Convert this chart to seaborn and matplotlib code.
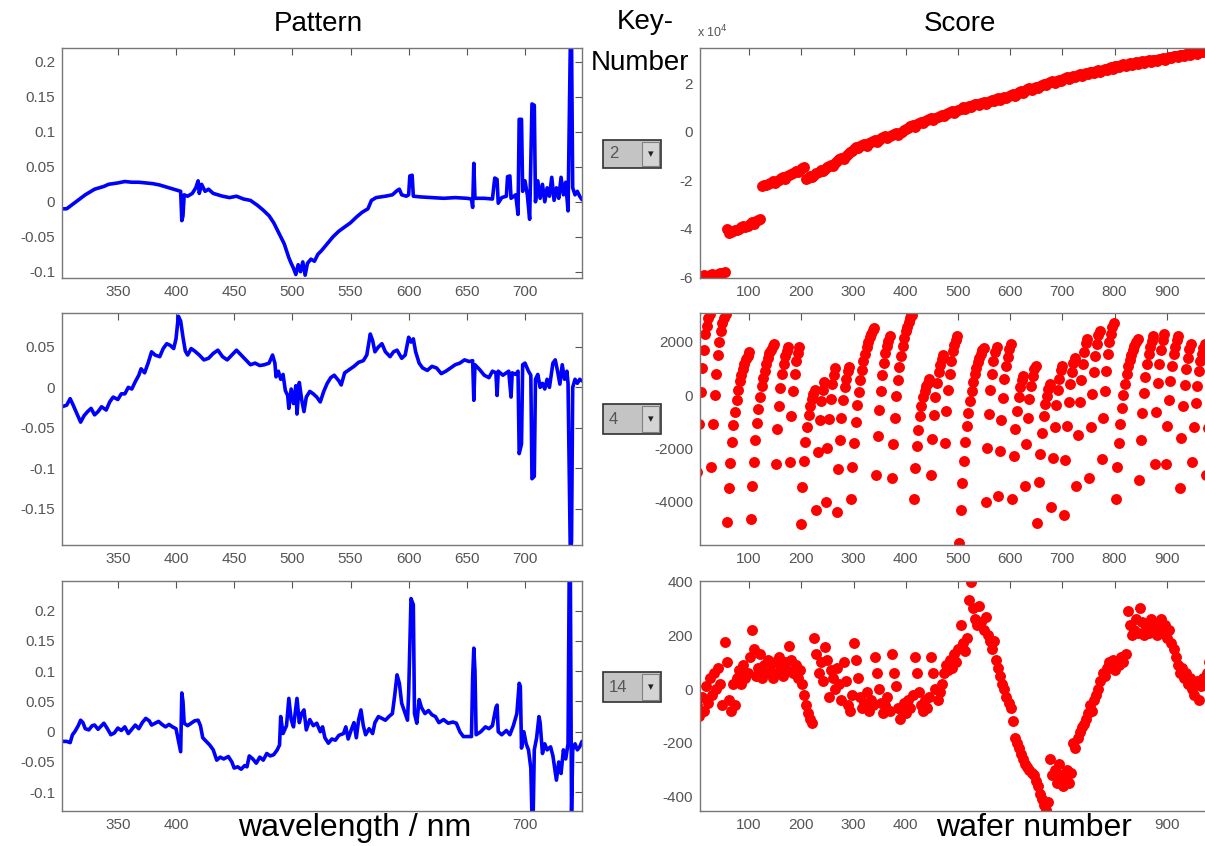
import matplotlib.pyplot as plt
import numpy as np
import seaborn as sns
from matplotlib.patches import Rectangle
from matplotlib.ticker import FuncFormatter, MultipleLocator

# ---- spectra (loadings): wavelength in nm, value
pat2_wl = [302, 306, 310, 314, 318, 322, 326, 330, 334, 338, 342, 346, 350, 356, 362, 368,
           374, 380, 386, 392, 398, 402, 404, 405, 406, 407, 410, 414, 417, 419, 420, 422,
           425, 428, 432, 436, 440, 446, 452, 458, 464, 470, 475, 480, 484, 487, 490, 493,
           495, 497, 499, 501, 503, 505, 507, 509, 511, 513, 516, 519, 522, 525, 530, 535,
           540, 545, 550, 555, 560, 565, 568, 572, 580, 586, 590, 592, 594, 598, 600, 601,
           603, 604, 610, 620, 630, 640, 650, 654, 655, 656, 657, 665, 672, 674, 676, 677,
           680, 684, 685, 687, 688, 692, 694, 695, 697, 698, 700, 702, 704, 706, 708, 709,
           711, 713, 715, 717, 719, 721, 723, 725, 727, 729, 731, 733, 735, 737, 738, 739,
           740, 741, 743, 745, 747, 749]
pat2_val = [-0.010, -0.010, -0.005, 0.000, 0.005, 0.010, 0.014, 0.018, 0.020, 0.022, 0.025,
            0.026, 0.027, 0.029, 0.028, 0.028, 0.027, 0.026, 0.024, 0.021, 0.018, 0.016,
            0.015, -0.027, -0.020, 0.010, 0.008, 0.012, 0.020, 0.030, 0.012, 0.025, 0.015,
            0.018, 0.012, 0.010, 0.008, 0.006, 0.008, 0.004, 0.002, -0.005, -0.012, -0.020,
            -0.030, -0.040, -0.050, -0.060, -0.070, -0.080, -0.088, -0.095, -0.104, -0.090,
            -0.100, -0.086, -0.105, -0.088, -0.082, -0.085, -0.075, -0.070, -0.060, -0.050,
            -0.042, -0.036, -0.030, -0.022, -0.015, -0.010, 0.002, 0.006, 0.008, 0.010,
            0.016, 0.018, 0.010, 0.008, 0.010, 0.037, 0.038, 0.008, 0.007, 0.006, 0.005,
            0.006, 0.005, 0.004, -0.008, 0.055, 0.005, 0.005, 0.004, 0.034, 0.032, -0.002,
            0.006, 0.008, 0.036, 0.037, 0.005, 0.010, -0.018, 0.118, 0.118, 0.015, 0.030,
            0.010, -0.025, 0.140, 0.138, 0.000, 0.030, 0.005, 0.025, 0.000, 0.020, 0.008,
            0.035, 0.002, 0.020, 0.005, 0.035, 0.010, 0.028, -0.013, 0.110, 0.230, 0.230,
            0.020, 0.010, 0.015, 0.008, 0.003]

pat4_wl = [302, 306, 309, 311, 314, 318, 321, 324, 327, 330, 333, 336, 340, 343, 346, 350,
           353, 356, 359, 362, 365, 368, 370, 373, 376, 379, 382, 386, 389, 392, 395, 398,
           400, 402, 404, 406, 408, 410, 413, 416, 420, 424, 428, 432, 436, 440, 444, 448,
           452, 456, 460, 464, 468, 472, 476, 480, 483, 485, 486, 488, 490, 492, 494, 496,
           497, 499, 501, 503, 504, 506, 508, 510, 512, 515, 518, 521, 524, 527, 530, 533,
           536, 540, 542, 545, 549, 553, 557, 561, 564, 567, 569, 571, 574, 577, 580, 584,
           587, 590, 594, 597, 600, 602, 604, 606, 609, 612, 616, 620, 624, 628, 632, 636,
           640, 644, 648, 652, 655, 656, 657, 661, 665, 669, 672, 675, 676, 677, 681, 684,
           686, 688, 689, 692, 694, 695, 697, 698, 700, 703, 705, 706, 708, 709, 711, 713,
           715, 717, 719, 721, 724, 726, 728, 730, 732, 734, 736, 737, 738, 739, 740, 741,
           743, 745, 747, 749]
pat4_val = [-0.024, -0.022, -0.014, -0.020, -0.030, -0.043, -0.035, -0.030, -0.026, -0.034,
            -0.030, -0.024, -0.028, -0.018, -0.012, -0.015, -0.008, -0.008, 0.000, -0.002,
            0.007, 0.015, 0.023, 0.018, 0.030, 0.044, 0.040, 0.038, 0.048, 0.054, 0.052,
            0.048, 0.060, 0.088, 0.082, 0.062, 0.045, 0.040, 0.048, 0.045, 0.040, 0.034,
            0.036, 0.042, 0.046, 0.038, 0.034, 0.040, 0.046, 0.040, 0.034, 0.028, 0.030,
            0.027, 0.028, 0.030, 0.040, 0.030, 0.013, 0.020, 0.010, 0.016, -0.004, -0.010,
            -0.026, -0.002, -0.020, 0.002, -0.033, 0.006, -0.015, -0.030, -0.012, -0.005,
            -0.008, -0.012, -0.018, -0.005, 0.005, 0.012, 0.015, 0.008, 0.003, 0.018, 0.022,
            0.026, 0.031, 0.033, 0.040, 0.066, 0.058, 0.044, 0.050, 0.054, 0.044, 0.038,
            0.044, 0.046, 0.036, 0.040, 0.062, 0.056, 0.060, 0.044, 0.030, 0.024, 0.021,
            0.026, 0.024, 0.017, 0.020, 0.024, 0.028, 0.030, 0.034, 0.032, 0.033, -0.016,
            0.028, 0.022, 0.015, 0.012, 0.020, 0.018, -0.010, 0.020, 0.015, 0.018, 0.020,
            -0.012, 0.018, 0.016, 0.020, -0.082, -0.070, 0.028, 0.030, 0.020, 0.015, -0.113,
            -0.110, 0.010, 0.016, 0.000, 0.005, -0.002, 0.010, 0.000, 0.030, 0.034, 0.020,
            0.004, 0.028, 0.010, 0.020, 0.005, -0.100, -0.210, -0.190, 0.000, 0.010, 0.005,
            0.010, 0.008]

pat14_wl = [302, 306, 309, 311, 313, 316, 318, 320, 322, 325, 328, 330, 333, 336, 338, 341,
            344, 347, 350, 353, 356, 359, 362, 365, 368, 371, 374, 377, 379, 382, 385, 388,
            391, 394, 397, 400, 402, 404, 405, 406, 407, 410, 413, 416, 419, 421, 423, 426,
            429, 432, 435, 438, 441, 445, 448, 450, 453, 456, 459, 461, 463, 466, 469, 472,
            475, 478, 481, 484, 487, 489, 490, 492, 495, 497, 499, 501, 503, 504, 506, 508,
            510, 512, 515, 518, 521, 524, 526, 528, 531, 534, 537, 540, 544, 546, 548, 551,
            553, 555, 557, 559, 561, 563, 566, 569, 571, 574, 577, 580, 583, 586, 588, 590,
            592, 594, 597, 599, 600, 602, 604, 605, 607, 609, 611, 614, 617, 620, 623, 626,
            630, 634, 638, 641, 644, 647, 650, 654, 655, 656, 657, 658, 662, 666, 669, 672,
            675, 676, 677, 680, 684, 687, 690, 693, 695, 696, 697, 699, 701, 703, 705, 706,
            707, 708, 710, 712, 713, 715, 717, 719, 722, 724, 727, 729, 731, 733, 735, 737,
            738, 739, 740, 741, 743, 745, 747, 749]
pat14_val = [-0.016, -0.016, -0.018, -0.005, 0.000, 0.010, 0.019, 0.015, 0.005, 0.003,
             0.010, 0.011, 0.004, 0.010, 0.014, 0.005, -0.005, -0.002, 0.006, 0.002, 0.008,
             -0.003, 0.004, 0.011, 0.005, 0.015, 0.022, 0.018, 0.011, 0.014, 0.017, 0.012,
             0.008, 0.012, 0.008, 0.005, -0.014, -0.033, 0.064, 0.050, 0.014, 0.010, 0.014,
             0.018, 0.019, 0.010, -0.010, -0.016, -0.022, -0.030, -0.047, -0.042, -0.045,
             -0.041, -0.050, -0.060, -0.058, -0.062, -0.056, -0.058, -0.040, -0.045, -0.052,
             -0.042, -0.047, -0.036, -0.040, -0.038, -0.030, -0.022, 0.025, -0.003, 0.010,
             0.055, 0.020, 0.008, 0.040, 0.055, 0.015, 0.030, 0.036, 0.003, 0.020, 0.010,
             0.014, 0.000, 0.008, -0.010, -0.019, -0.012, -0.014, -0.006, -0.003, 0.008,
             -0.012, 0.005, 0.015, -0.010, 0.020, 0.036, 0.010, -0.005, 0.005, -0.003, 0.015,
             0.025, 0.022, 0.019, 0.025, 0.030, 0.060, 0.094, 0.080, 0.047, 0.030, 0.019,
             0.064, 0.220, 0.210, 0.030, 0.014, 0.053, 0.040, 0.030, 0.035, 0.028, 0.025,
             0.015, 0.020, 0.014, 0.016, 0.014, 0.000, -0.008, -0.008, -0.008, 0.090, 0.138,
             0.100, -0.005, 0.000, 0.008, 0.005, 0.010, 0.040, 0.044, 0.000, -0.005, 0.002,
             -0.005, 0.010, 0.030, 0.080, 0.075, -0.027, 0.000, -0.020, -0.030, -0.060,
             -0.140, -0.140, -0.030, -0.010, 0.025, 0.015, -0.036, -0.020, -0.030, -0.025,
             -0.040, -0.080, -0.050, -0.069, -0.030, -0.045, -0.020, 0.260, 0.260, -0.140,
             -0.030, -0.020, -0.030, -0.025, -0.016]

# ---- scores per wafer (key 2 in units of 1e4, every 4th wafer)
score2_e4 = [-6.05, -6.00, -5.95, -5.90, -6.02, -5.95, -5.90, -5.86, -5.98, -5.92, -5.88, -5.85,
             -5.82, -5.80,
             -4.00, -4.20, -4.15, -4.10, -4.05, -4.08, -4.00, -3.95, -3.90, -3.95, -3.88, -3.80,
             -3.75, -3.80, -3.70, -3.65, -3.62,
             -2.25, -2.20, -2.22, -2.15, -2.10, -2.05, -2.12, -2.02, -1.98, -1.92, -1.88, -1.95,
             -1.85, -1.80, -1.74, -1.70, -1.62, -1.68, -1.58, -1.52, -1.45,
             -1.95, -1.90, -1.84, -1.88, -1.78, -1.72, -1.66, -1.60, -1.64, -1.55, -1.48, -1.42,
             -1.36, -1.40, -1.30, -1.22, -1.15, -1.08, -1.12, -1.00, -0.92, -0.85, -0.78, -0.70,
             -0.62,
             -0.68, -0.60, -0.55, -0.50, -0.58, -0.48, -0.44, -0.40, -0.35, -0.42, -0.33, -0.28,
             -0.24, -0.20, -0.27, -0.18, -0.14, -0.10, -0.05, -0.12, -0.04, 0.00,
             0.05, 0.10, 0.15, 0.22, 0.28, 0.20, 0.32, 0.36, 0.40, 0.34, 0.42, 0.46, 0.50, 0.55,
             0.48, 0.58, 0.62, 0.66, 0.70, 0.64, 0.72, 0.76, 0.80, 0.85, 0.78, 0.86, 0.90,
             0.95, 1.00, 0.94, 1.02, 1.06, 1.00, 1.08, 1.12, 1.16, 1.10, 1.18, 1.22, 1.16, 1.24,
             1.28, 1.32, 1.26, 1.34, 1.38, 1.32, 1.40, 1.44, 1.38, 1.46,
             1.50, 1.55, 1.48, 1.56, 1.62, 1.66, 1.60, 1.68, 1.74, 1.78, 1.72, 1.82, 1.86, 1.80,
             1.90, 1.94, 1.98, 1.92, 2.00, 2.04, 2.08, 2.02, 2.10, 2.14, 2.08, 2.16,
             2.20, 2.24, 2.18, 2.26, 2.30, 2.25, 2.32, 2.36, 2.30, 2.38, 2.42, 2.36, 2.44, 2.47,
             2.42, 2.50, 2.53, 2.48, 2.56, 2.59, 2.54, 2.62, 2.65, 2.60, 2.69,
             2.72, 2.66, 2.74, 2.77, 2.72, 2.79, 2.82, 2.76, 2.84, 2.86, 2.80, 2.88, 2.90, 2.85,
             2.92, 2.94, 2.88, 2.95, 2.97, 2.92, 2.99, 3.00,
             3.02, 2.96, 3.05, 3.08, 3.02, 3.10, 3.13, 3.07, 3.15, 3.18, 3.12, 3.20, 3.23, 3.17,
             3.25, 3.28, 3.22, 3.30, 3.33, 3.27, 3.35, 3.38, 3.32, 3.40, 3.42, 3.38, 3.45]

# key 4, every 3rd wafer, one row per lot
score4 = [-2900, -1100, 100, 1000, 1700, 2300, 2600, 2900, 3050,
          -2700, -1100, 0, 800, 1500, 2000, 2400, 2700, 2900, 3050,
          -4750, -3480, -2530, -1770, -1130, -620, -180, 200, 520, 770, 970, 1150, 1350, 1470, 1600,
          -4650, -3400, -2490, -1700, -1050, -520, -70, 330, 660, 920, 1180, 1380, 1570, 1700,
          1830, 1900,
          -2600, -1280, -400, 260, 790, 1180, 1450, 1670, 1800,
          -2500, -780, 170, 810, 1280, 1590, 1800,
          -4850, -3440, -2480, -1770, -1210, -760, -410, -150, 50, 200,
          -4300, -2140, -940, -220, 210, 500,
          -4000, -2000, -900, -150, 400, 750, 1000,
          -4400, -2770, -1680, -860, -200, 290, 610, 890, 1050,
          -3900, -2680, -1790, -1020, -380, 130, 580, 960, 1280, 1540, 1800, 1990, 2180, 2310,
          2440, 2500,
          -3000, -1540, -560, 170, 740, 1210, 1580, 1840, 2040, 2200,
          -3100, -1820, -840, -50, 560, 1050, 1480, 1840, 2150, 2390, 2570, 2760, 2880, 3000,
          -3900, -2730, -1920, -1290, -790, -390, -75, 150, 330, 470, 600,
          -3000, -1650, -750, -75, 470, 870, 1140, 1370, 1500,
          -1800, -600, 200, 800, 1280, 1640, 1880, 2080, 2200,
          -5550, -4310, -3290, -2480, -1750, -1170, -660, -220, 140, 510, 800, 1020, 1240, 1380,
          1530, 1680, 1750,
          -4000, -1970, -690, 180, 810, 1280, 1630, 1800,
          -3800, -2090, -950, -100, 590, 1100, 1440, 1730, 1900,
          -3900, -2290, -1280, -590, -80, 290, 560, 700,
          -3400, -1830, -840, -160, 340, 700, 970, 1100,
          -4800, -3240, -2200, -1420, -800, -330, -20, 240, 400,
          -4200, -2350, -1180, -380, 200, 620, 940, 1100,
          -4500, -2440, -1140, -250, 400, 870, 1220, 1400,
          -3400, -1480, -270, 560, 1170, 1610, 1940, 2100,
          -3100, -1180, 30, 860, 1470, 1910, 2240, 2400,
          -2400, -870, 150, 920, 1530, 1990, 2290, 2550, 2700,
          -3900, -2700, -1800, -1080, -480, 0, 420, 780, 1080, 1320, 1500, 1680, 1860, 1980, 2100,
          -3200, -1690, -660, 90, 690, 1170, 1550, 1820, 2040, 2200,
          -2600, -640, 440, 1170, 1710, 2060, 2300,
          -2600, -1160, -200, 520, 1100, 1530, 1820, 2060, 2200,
          -3500, -1610, -420, 390, 980, 1410, 1740, 1900,
          -2500, -1180, -300, 360, 890, 1280, 1550, 1770, 1900,
          -3000, -1250, -150, 600, 1150, 1550, 1850, 2000]

# key 14, every 4th wafer
score14 = [-60, -100, -30, -80, 10, -50, 40, -20, 60, 0, 80, 20, -60, 175, 100, -40, -80, 20,
           -60, 40, 70, 20, 90, 40, 60, 120, 220, 150, 50, 80, 130, 40, 90, 60, 110, 70, 40, 100,
           60, 120, 80, 50, 100, 70, 160, 110, 60, 90, 40, 70, 20, -20, -60, -90, -110, -125,
           190, 130, 60, 100, 30, 155, 110, -30, 70, 40, 0, 80, 20, -40, 100, 30, -60, -80, -20,
           170, 110, 40, -30, -70, -50, -10, -80, -40, -60, 120, 60, 0, -50, -90, -60, -30, -80,
           130, 60, 10, -70, -110, -80, -50, -90, -40, -70, -20, 120, 60, -10, -60, -80, -40,
           -70, -30, 120, 60, 0, -40, -10, 20, 60, 90, 70, 110, 80, 130, 100, 150, 240, 170, 140,
           190, 330, 400, 300, 260, 240, 310, 250, 220, 270, 200, 180, 150, 180, 110, 80, 50, 20,
           0, -30, -50, -70, -120, -180, -200, -220, -240, -260, -280, -290, -300, -310, -320,
           -340, -360, -390, -410, -430, -450, -420, -260, -320, -300, -350, -280, -320, -360,
           -330, -300, -350, -310, -200, -220, -180, -160, -140, -130, -110, -90, -60, -80, -40,
           -20, 0, 30, 60, 50, 80, 100, 80, 110, 70, 100, 90, 120, 100, 130, 290, 240, 200, 220,
           260, 210, 300, 250, 200, 230, 210, 260, 220, 240, 200, 230, 260, 210, 240, 190, 220,
           170, 150, 120, 90, 60, 80, 40, 60, 20, 40, 0, -20, 30, -40, 10, 40, 20, 60, 100, 200,
           120, 50, 30]

key_numbers = ["2", "4", "14"]
wl_ticks = [350, 400, 450, 500, 550, 600, 650, 700]
wafer_ticks = [100, 200, 300, 400, 500, 600, 700, 800, 900]

wafer2 = 1 + 4 * np.arange(len(score2_e4))
wafer4 = 1 + 3 * np.arange(len(score4))
wafer14 = 1 + 4 * np.arange(len(score14))
score2 = np.array(score2_e4) * 1e4

W, H = 1205, 846
sns.set_style("white")
plt.rcParams["font.family"] = ["Liberation Sans", "DejaVu Sans"]
plt.rcParams["text.color"] = "black"

fig = plt.figure(figsize=(W / 100, H / 100), dpi=100)


def px(x0, y0, x1, y1):
    # pixel box -> figure fraction [left, bottom, width, height]
    return [x0 / W, 1 - y1 / H, (x1 - x0) / W, (y1 - y0) / H]


rows = [(48, 278), (313, 545), (581, 811)]
blue, red = "#0000ff", "#ff0000"
fmt = FuncFormatter(lambda v, p: "%g" % round(v, 4))


def style(ax):
    ax.tick_params(direction="in", top=True, right=True, length=5, width=0.8,
                   labelsize=11, labelcolor="#555555", color="#555555", pad=5)
    for s in ax.spines.values():
        s.set_color("#777777")
        s.set_linewidth(1.0)
    ax.set_xlabel("")
    ax.set_ylabel("")


spectra = [(pat2_wl, pat2_val, (-0.109, 0.22)),
           (pat4_wl, pat4_val, (-0.195, 0.092)),
           (pat14_wl, pat14_val, (-0.131, 0.249))]
for i, ((y0, y1), (wl, val, ylim)) in enumerate(zip(rows, spectra)):
    ax = fig.add_axes(px(62, y0, 582, y1))
    sns.lineplot(x=wl, y=val, ax=ax, color=blue, linewidth=2.6, estimator=None, sort=False)
    ax.set_xlim(302, 749)
    ax.set_ylim(*ylim)
    ax.set_xticks(wl_ticks)
    if i == 2:
        # the axis title sits over these labels in the original
        ax.set_xticklabels([str(t) if t in (350, 400, 700) else "" for t in wl_ticks])
    ax.yaxis.set_major_locator(MultipleLocator(0.05))
    ax.yaxis.set_major_formatter(fmt)
    style(ax)

scores = [(wafer2, score2, (-60400, 34500), 20000),
          (wafer4, score4, (-5620, 3080), 2000),
          (wafer14, score14, (-453, 402), 200)]
for i, ((y0, y1), (wf, sc, ylim, step)) in enumerate(zip(rows, scores)):
    ax = fig.add_axes(px(700, y0, 1219, y1))
    sns.scatterplot(x=wf, y=sc, ax=ax, color=red, s=62, linewidth=0, marker="o")
    ax.set_xlim(6, 1000)
    ax.set_ylim(*ylim)
    ax.set_xticks(wafer_ticks)
    if i == 2:
        ax.set_xticklabels([str(t) if t in (100, 200, 300, 400, 900) else ""
                            for t in wafer_ticks])
    ax.yaxis.set_major_locator(MultipleLocator(step))
    if i == 0:
        ax.yaxis.set_major_formatter(FuncFormatter(lambda v, p: "%g" % round(v / 1e4, 3)))
    else:
        ax.yaxis.set_major_formatter(fmt)
    style(ax)

# column headings
fig.text(318 / W, 1 - 24 / H, "Pattern", ha="center", va="center", fontsize=20)
fig.text(960 / W, 1 - 24 / H, "Score", ha="center", va="center", fontsize=20)
fig.text(645 / W, 1 - 22 / H, "Key-", ha="center", va="center", fontsize=20)
fig.text(640 / W, 1 - 63 / H, "Number", ha="center", va="center", fontsize=20)
fig.text(697 / W, 1 - 32 / H, "x 10$^4$", ha="left", va="center", fontsize=9, color="#555555")

# axis labels, sitting over the tick-label row
fig.text(355 / W, 1 - 828 / H, "wavelength / nm", ha="center", va="center", fontsize=23)
fig.text(1034 / W, 1 - 828 / H, "wafer number", ha="center", va="center", fontsize=23)

# key-number selectors
for (y0, y1), key in zip([(140, 168), (404, 434), (672, 702)], key_numbers):
    x0, x1 = 603, 661
    fig.patches.append(Rectangle((x0 / W, 1 - y1 / H), (x1 - x0) / W, (y1 - y0) / H,
                                 transform=fig.transFigure, facecolor="#c4c4c4",
                                 edgecolor="#303030", linewidth=1.2))
    fig.patches.append(Rectangle(((x1 - 19) / W, 1 - (y1 - 2) / H), 17 / W, (y1 - y0 - 4) / H,
                                 transform=fig.transFigure, facecolor="#d4d4d4",
                                 edgecolor="#808080", linewidth=0.8))
    fig.text((x0 + 6) / W, 1 - (y0 + y1) / 2 / H, key, ha="left", va="center",
             fontsize=12, color="#555555")
    fig.text((x1 - 10.5) / W, 1 - (y0 + y1) / 2 / H, "\u25be", ha="center", va="center",
             fontsize=8, color="#202020", family=["DejaVu Sans"])

fig.savefig("out.png", dpi=100)
